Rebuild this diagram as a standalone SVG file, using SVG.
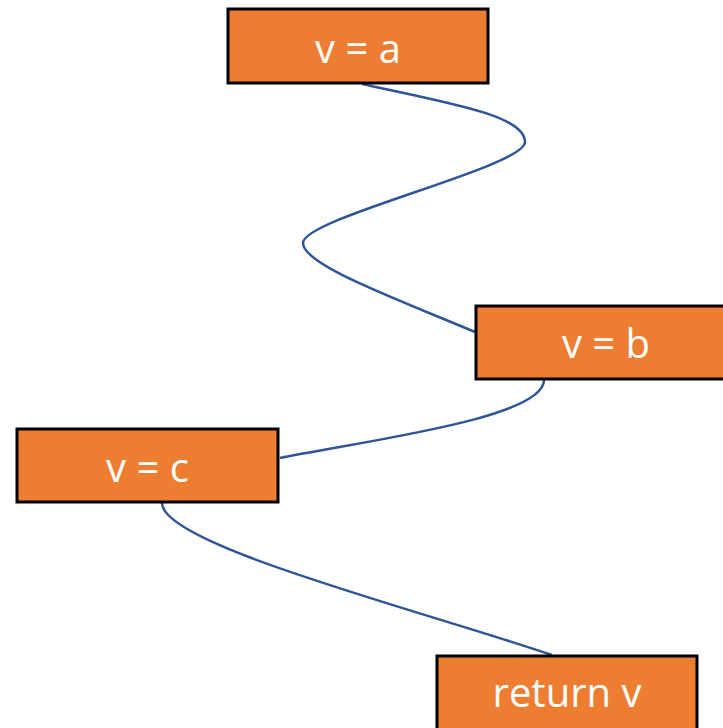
<svg xmlns="http://www.w3.org/2000/svg" width="723" height="728" viewBox="0 0 723 728">
<style>
.box{fill:#ED7D31;stroke:#000;stroke-width:3}
.lbl{fill:#fff;font-family:"Open Sans","Noto Sans",sans-serif;font-size:40px;text-anchor:middle}
.edge{fill:none;stroke:#2F5597;stroke-width:2.5}
</style>
<rect width="723" height="728" fill="#fff"/>
<g id="connectors">
<path class="edge" d="M362,84 C455,104 525,116 525,142 C525,167 303,218 303,243 C303,264 384,294 475,332"/>
<path class="edge" d="M544,380 C544,418 370,440 280,458"/>
<path class="edge" d="M162,503 C162,545 420,610 552,655"/>
</g>
<g id="node-va">
<rect class="box" x="228" y="9" width="260" height="74"/>
<text class="lbl" x="358" y="63">v = a</text>
</g>
<g id="node-vb">
<rect class="box" x="476" y="306" width="260" height="73"/>
<text class="lbl" x="606" y="358">v = b</text>
</g>
<g id="node-vc">
<rect class="box" x="17" y="429" width="261" height="73"/>
<text class="lbl" x="147.5" y="482">v = c</text>
</g>
<g id="node-return">
<rect class="box" x="437" y="656" width="260" height="80"/>
<text class="lbl" x="567" y="707">return v</text>
</g>
</svg>
